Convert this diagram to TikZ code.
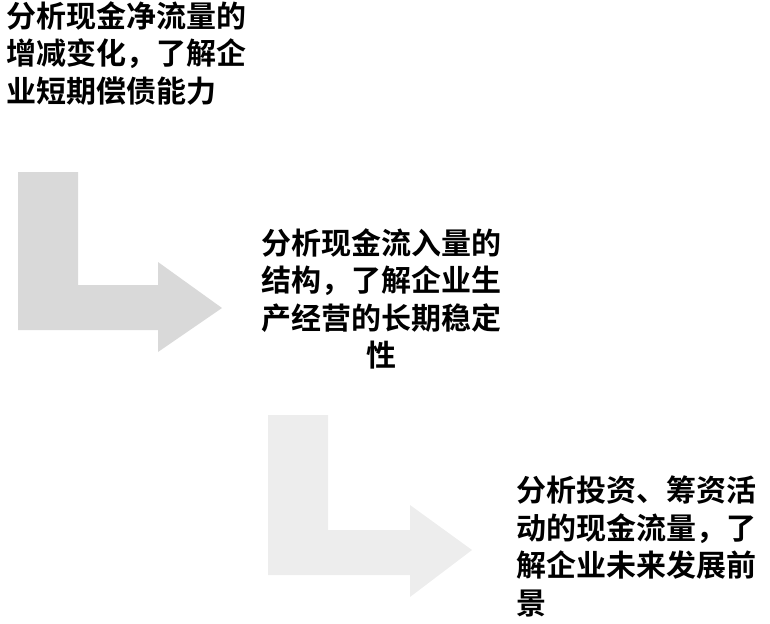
\documentclass[tikz,border=0pt]{standalone}
\usepackage{fontspec}
\newfontfamily\cjk{Noto Sans CJK SC Bold}
\begin{document}
\begin{tikzpicture}[x=1pt,y=-1pt]
\useasboundingbox (0,0) rectangle (770,623);
\tikzset{lbl/.style={font=\cjk\fontsize{30}{37.5}\selectfont,inner sep=0pt,text width=252pt}}
\fill[gray!30] (18,172) -- (78,172) -- (78,285) -- (158,285) -- (158,262) -- (222,308) -- (158,352) -- (158,330) -- (18,330) -- cycle;
\fill[gray!14] (268,415) -- (328,415) -- (328,530) -- (410,530) -- (410,505) -- (472,550) -- (410,597) -- (410,575) -- (268,575) -- cycle;
\node[lbl,anchor=north west,align=left] (t1) at (6,1) {分析现金净流量的\\增减变化，了解企\\业短期偿债能力};
\node[lbl,anchor=north west,align=center] (t2) at (255,228) {分析现金流入量的\\结构，了解企业生\\产经营的长期稳定\\性};
\node[lbl,anchor=north west,align=left] (t3) at (516,476) {分析投资、筹资活\\动的现金流量，了\\解企业未来发展前\\景};
\end{tikzpicture}
\end{document}
